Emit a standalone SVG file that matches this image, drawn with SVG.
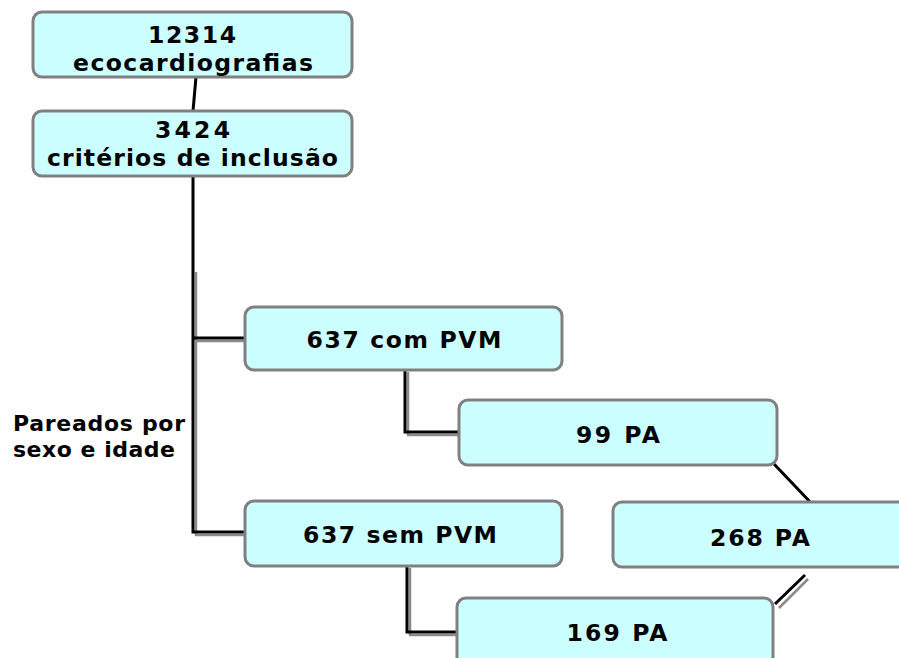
<svg xmlns="http://www.w3.org/2000/svg" width="899" height="658" viewBox="0 0 899 658">
<style>
.box{fill:#ccffff;stroke:#808080;stroke-width:3}
.t{font-family:"DejaVu Sans",Verdana,sans-serif;font-weight:bold;font-size:23.5px;fill:#000;text-anchor:middle}
.l{font-family:"DejaVu Sans",Verdana,sans-serif;font-weight:bold;font-size:22px;fill:#000}
.c{fill:none;stroke:#000;stroke-width:3}
.s{fill:none;stroke:#8a8a8a;stroke-width:2.5}
</style>
<rect width="899" height="658" fill="#fff"/>
<g id="connectors">
<polyline class="s" points="196,272 196,535 245,535"/>
<polyline class="s" points="196,341 245,341"/>
<polyline class="s" points="408,372 408,435 459,435"/>
<polyline class="s" points="410,568 410,635 457,635"/>
<line class="s" x1="779" y1="608" x2="808" y2="579"/>
<line class="c" x1="196" y1="77" x2="193" y2="111"/>
<polyline class="c" points="193,176 193,532 245,532"/>
<line class="c" x1="193" y1="338" x2="245" y2="338"/>
<polyline class="c" points="405,370 405,432 459,432"/>
<polyline class="c" points="407,566 407,632 457,632"/>
<line class="c" x1="774" y1="464" x2="813" y2="505" stroke-width="2.5"/>
<line class="c" x1="775" y1="604" x2="805" y2="575" stroke-width="2.5"/>
</g>
<g id="n1"><rect class="box" x="33" y="12" width="319" height="65" rx="9"/>
<text class="t" x="192" y="43" textLength="88" lengthAdjust="spacing">12314</text>
<text class="t" x="193" y="71" textLength="240" lengthAdjust="spacing">ecocardiografias</text></g>
<g id="n2"><rect class="box" x="33" y="111" width="319" height="65" rx="9"/>
<text class="t" x="192.5" y="138" textLength="75" lengthAdjust="spacing">3424</text>
<text class="t" x="192.5" y="166" textLength="291" lengthAdjust="spacing">critérios de inclusão</text></g>
<g id="n3"><rect class="box" x="245" y="307" width="317" height="63" rx="9"/>
<text class="t" x="404" y="348" textLength="195" lengthAdjust="spacing">637 com PVM</text></g>
<g id="n4"><rect class="box" x="459" y="400" width="318" height="65" rx="9"/>
<text class="t" x="618" y="443" textLength="84" lengthAdjust="spacing">99 PA</text></g>
<g id="n5"><rect class="box" x="245" y="501" width="317" height="65" rx="9"/>
<text class="t" x="400" y="543" textLength="194" lengthAdjust="spacing">637 sem PVM</text></g>
<g id="n6"><rect class="box" x="613" y="502" width="300" height="65" rx="9"/>
<text class="t" x="760" y="546" textLength="100" lengthAdjust="spacing">268 PA</text></g>
<g id="n7"><rect class="box" x="457" y="598" width="316" height="80" rx="9"/>
<text class="t" x="617" y="641" textLength="101" lengthAdjust="spacing">169 PA</text></g>
<g id="label">
<text class="l" x="13" y="431" textLength="172" lengthAdjust="spacing">Pareados por</text>
<text class="l" x="13" y="457" textLength="162" lengthAdjust="spacing">sexo e idade</text>
</g>
</svg>
